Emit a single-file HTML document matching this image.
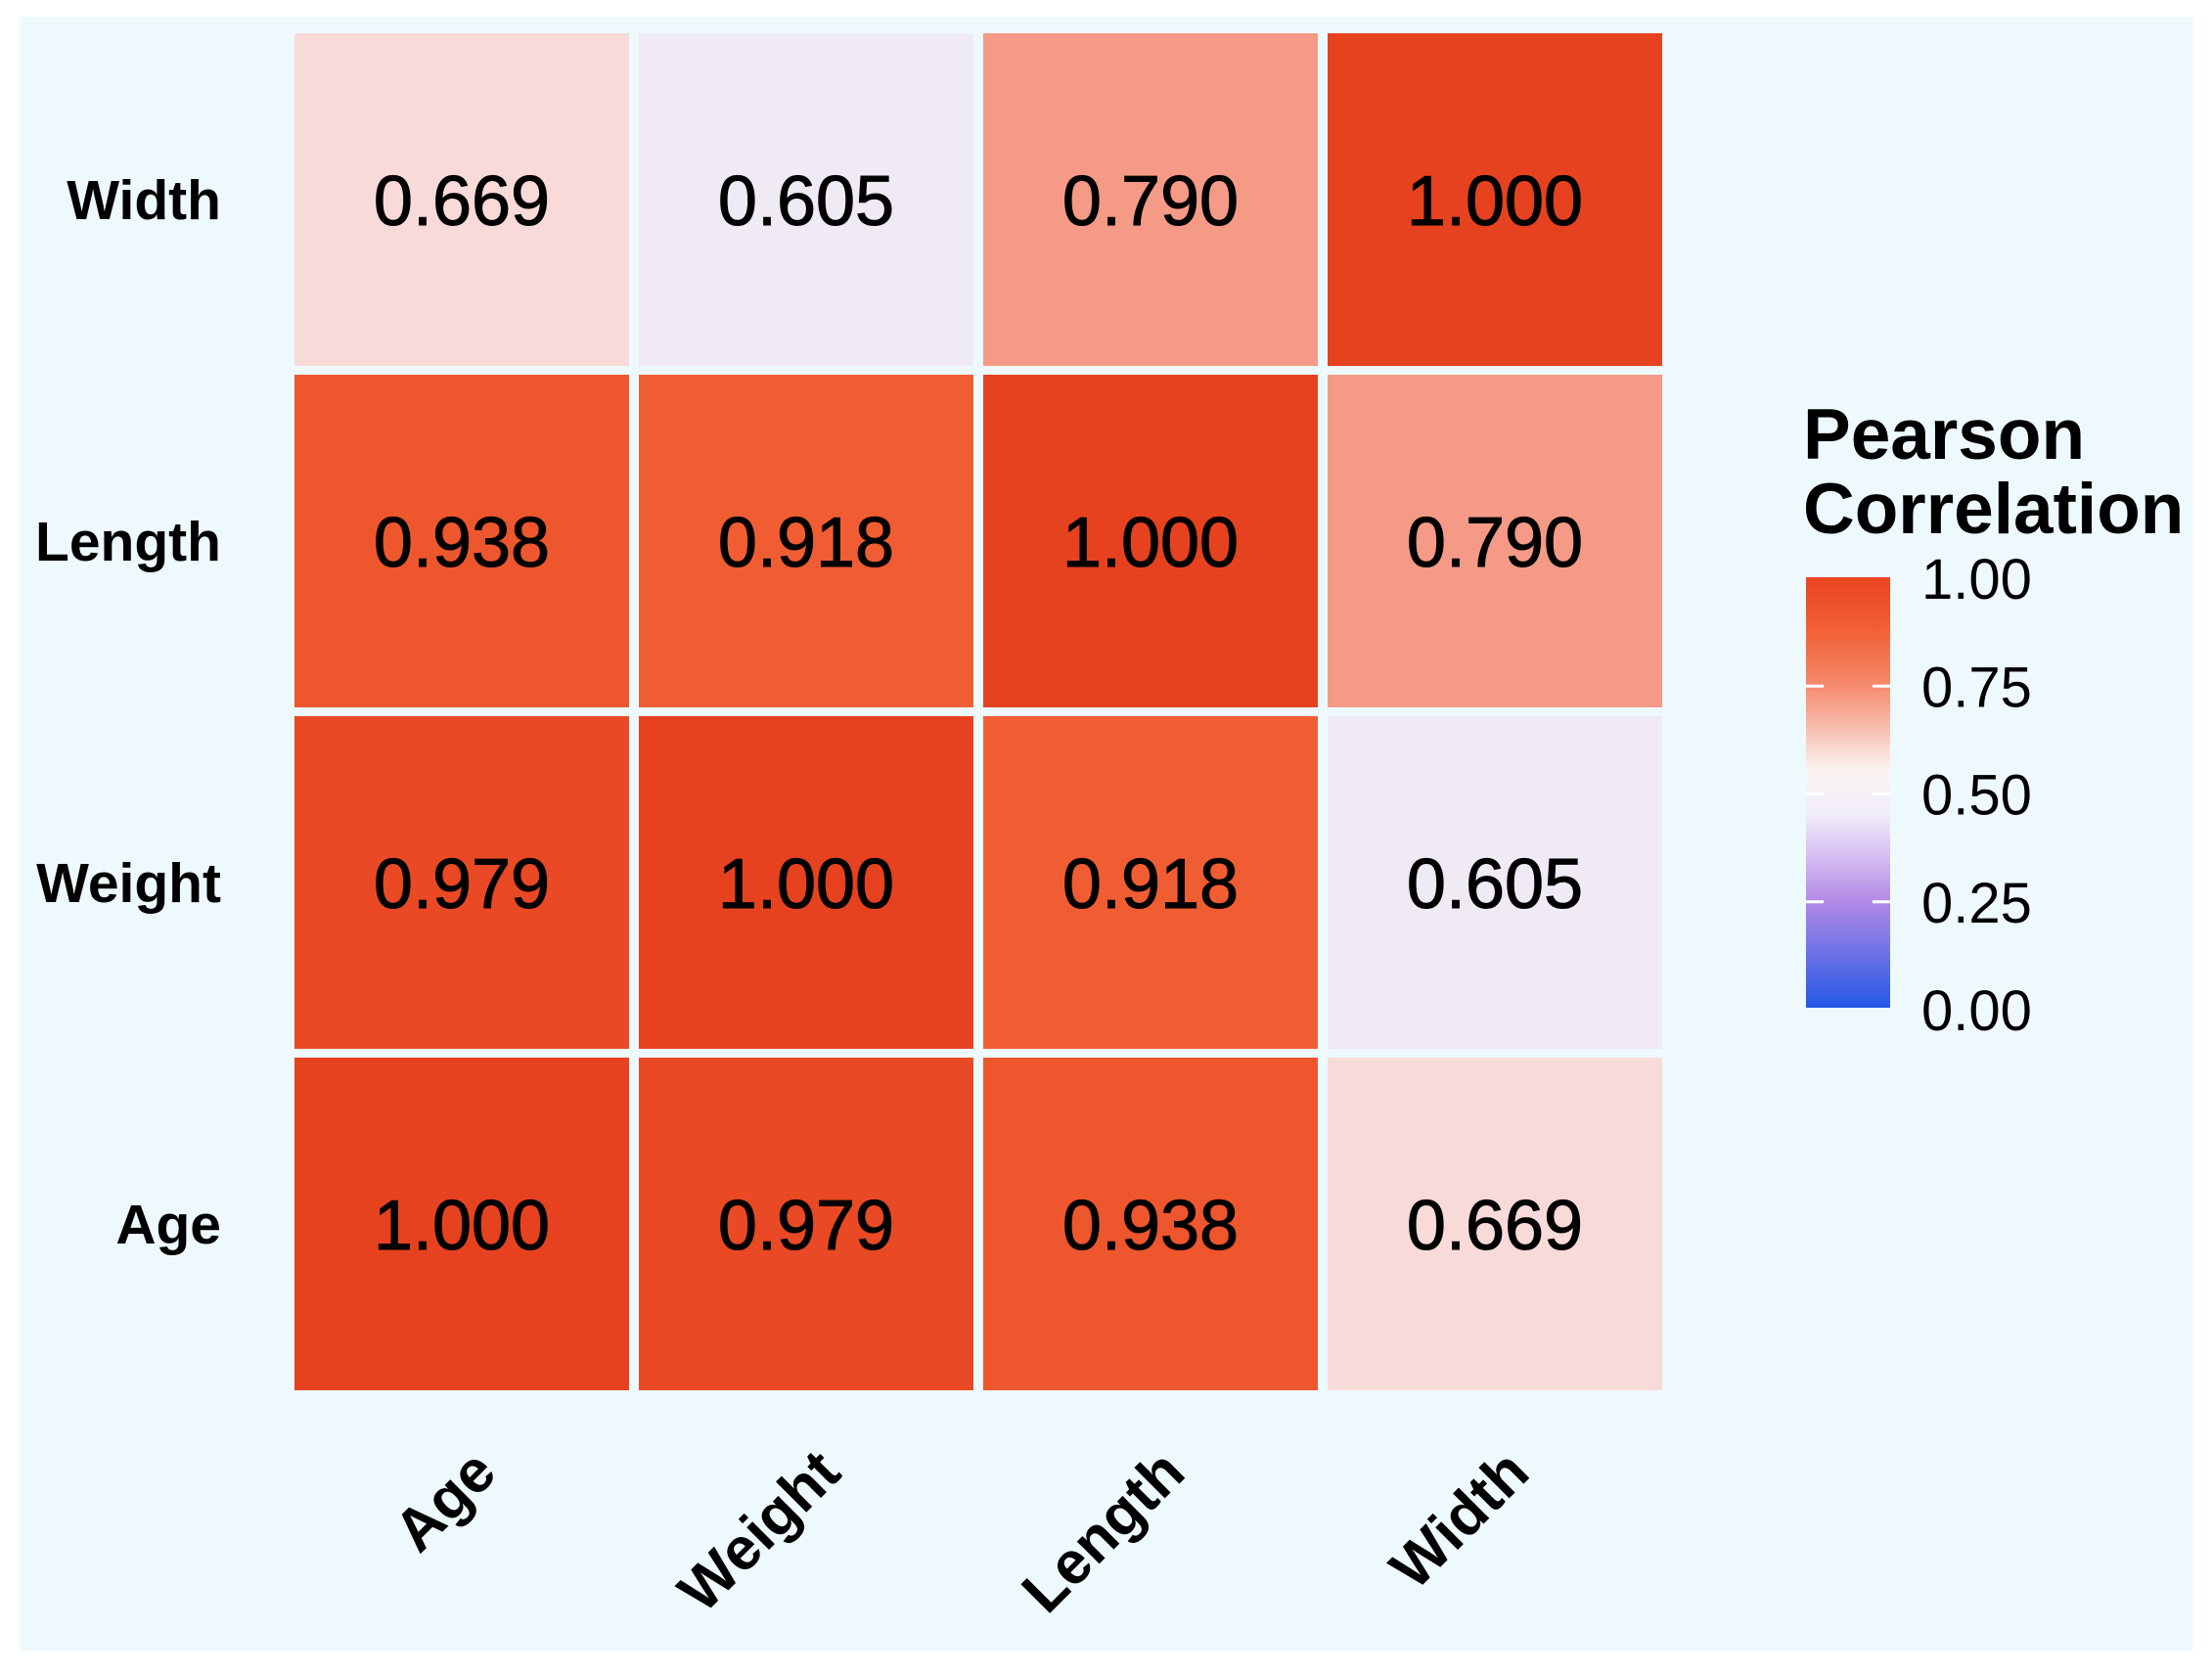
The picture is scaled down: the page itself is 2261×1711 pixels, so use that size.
<!DOCTYPE html>
<html><head><meta charset="utf-8"><style>
html,body{margin:0;padding:0;background:#fff;}
svg{display:block;font-family:"Liberation Sans",Arial,sans-serif;}
</style></head><body>
<svg id="chart" width="2261" height="1711" viewBox="0 0 2261 1711">
<defs>
<linearGradient id="cbar" x1="0" y1="1" x2="0" y2="0">
<stop offset="0" stop-color="#2458e6"/>
<stop offset="0.25" stop-color="#b48ae6"/>
<stop offset="0.45" stop-color="#f2eefb"/>
<stop offset="0.55" stop-color="#fbf3f2"/>
<stop offset="0.75" stop-color="#f58a6c"/>
<stop offset="0.88" stop-color="#f25f35"/>
<stop offset="1" stop-color="#e9441f"/>
</linearGradient>
</defs>
<rect x="20" y="17" width="2222" height="1670" fill="#eef9fd"/>
<g id="cells"></g>
<g id="ylabels"></g>
<g id="xlabels"></g>
<g>
<text x="1843" y="469" font-size="73" font-weight="bold" fill="#000">Pearson</text>
<text x="1843" y="545" font-size="73" font-weight="bold" fill="#000">Correlation</text>
<rect x="1846" y="590" width="86" height="440" fill="url(#cbar)"/>
<g id="cticks"></g>
</g>
</svg>
<script>
const categories = ["Age","Weight","Length","Width"];
const rowAge    = [1.000, 0.979, 0.938, 0.669];
const rowWeight = [0.979, 1.000, 0.918, 0.605];
const rowLength = [0.938, 0.918, 1.000, 0.790];
const rowWidth  = [0.669, 0.605, 0.790, 1.000];
const matrix = [rowAge,rowWeight,rowLength,rowWidth];
const legendTicks = [0, 0.25, 0.5, 0.75, 1.0];
const legendTickLabels = ["0.00","0.25","0.50","0.75","1.00"];

const NS="http://www.w3.org/2000/svg";
const x0=301, pitchX=352, cw=342;
const yBottom=1421, pitchY=349, ch=340;
function xPos(i){return x0+i*pitchX;}
function yPos(j){return yBottom-(j+1)*pitchY+ (pitchY-ch);}
function legendY(v){return 1032-v*441;}
const stops=[[0,[36,88,230]],[0.25,[180,138,230]],[0.5,[245,243,251]],[0.605,[239,234,244]],[0.669,[248,218,216]],[0.79,[244,154,134]],[0.918,[241,93,51]],[1.0,[230,66,31]]];
function color(v){
  for(let k=1;k<stops.length;k++){
    if(v<=stops[k][0]){const a=stops[k-1],b=stops[k];const t=(v-a[0])/(b[0]-a[0]);
      const c=a[1].map((q,i)=>Math.round(q+(b[1][i]-q)*t));return `rgb(${c.join(',')})`;}
  }
  return 'rgb(230,66,31)';
}
function mk(tag,attrs){const e=document.createElementNS(NS,tag);for(const k in attrs)e.setAttribute(k,attrs[k]);return e;}
const gc=document.getElementById('cells');
matrix.forEach((row,j)=>{row.forEach((v,i)=>{
  const r=mk('rect',{x:xPos(i),y:yPos(j),width:cw,height:ch,fill:color(v)});
  
  
  gc.appendChild(r);
  const t=mk('text',{x:xPos(i)+cw/2,y:yPos(j)+ch/2+26,'font-size':72,'text-anchor':'middle',fill:'#000',stroke:'#000','stroke-width':1});
  t.textContent=v.toFixed(3);
  
  
  gc.appendChild(t);
});});
const gy=document.getElementById('ylabels');
categories.forEach((c,j)=>{
  const t=mk('text',{x:226,y:yPos(j)+ch/2+20,'font-size':57,'font-weight':'bold','text-anchor':'end',fill:'#000'});
  t.textContent=c;
  
  
  gy.appendChild(t);
});
const gx=document.getElementById('xlabels');
categories.forEach((c,i)=>{
  const x=xPos(i)+cw/2+38, y=1508;
  const t=mk('text',{x:x,y:y,'font-size':61,'font-weight':'bold','text-anchor':'end',fill:'#000',transform:`rotate(-45 ${x} ${y})`});
  t.textContent=c;
  
  
  gx.appendChild(t);
});
const gt=document.getElementById('cticks');
legendTicks.forEach((v,k)=>{
  const y=legendY(v);
  if(v>0&&v<1){
    gt.appendChild(mk('line',{x1:1846,x2:1864,y1:y,y2:y,stroke:'#fff','stroke-width':3}));
    gt.appendChild(mk('line',{x1:1914,x2:1932,y1:y,y2:y,stroke:'#fff','stroke-width':3}));
  }
  const t=mk('text',{x:1964,y:y+21,'font-size':58,fill:'#000'});
  t.textContent=legendTickLabels[k];
  
  
  gt.appendChild(t);
});
</script>
</body></html>
